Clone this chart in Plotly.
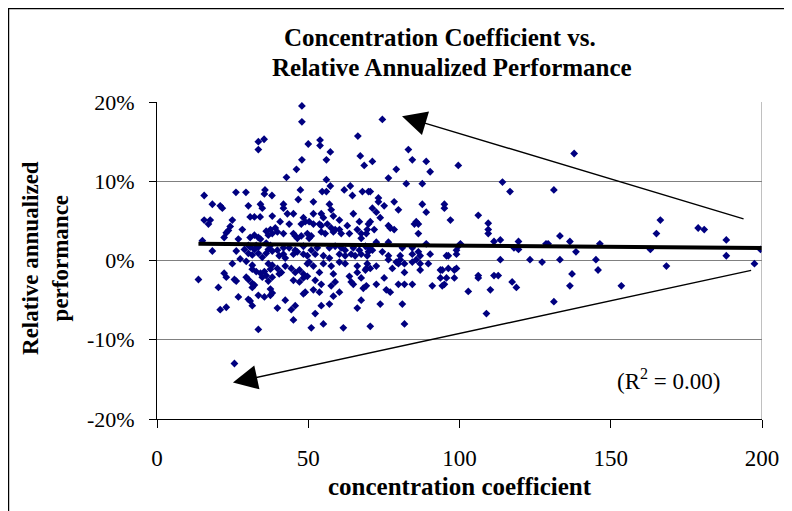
import plotly.graph_objects as go
import numpy as np

# concentration coefficient (x) / relative annualized performance in % (y)
conc_top_left = [47.9, 47.9, 50.0, 47.9, 46.1, 42.8, 33.5, 35.4, 33.5, 47.4, 26.1, 29.4, 35.7, 35.5, 38.0, 15.6, 46.7]
perf_top_left = [19.5, 17.5, 14.7, 12.7, 11.5, 10.5, 15.0, 15.3, 14.0, 8.9, 8.6, 8.6, 8.9, 8.4, 8.2, 8.2, 7.7]

conc_top_mid = [74.5, 66.4, 53.9, 53.9, 57.3, 56.0, 67.2, 68.5, 71.2, 83.1, 84.4, 89.0, 90.3, 99.6, 79.1,
                76.5, 82.4, 87.7, 56.0, 57.3, 54.6, 56.0, 61.9, 63.9, 64.6, 67.9, 69.9, 70.5, 73.2]
perf_top_mid = [17.8, 15.7, 15.2, 14.5, 13.7, 12.7, 13.2, 12.0, 12.5, 14.0, 12.7, 12.5, 11.2, 12.0, 11.5,
                10.4, 9.7, 9.7, 10.2, 9.4, 8.7, 8.7, 8.9, 9.4, 8.2, 8.7, 8.7, 8.7, 7.9]

conc_left = [18.3, 20.9, 21.6, 30.2, 34.2, 34.8, 15.6, 17.6, 17.0, 24.9, 30.8, 32.2, 34.1, 38.1, 24.2, 23.6,
             22.9, 22.2, 28.2, 26.9, 30.8, 32.2, 33.5, 34.2, 36.1, 36.8, 37.5, 38.1, 18.3, 26.2, 24.9, 27.5,
             29.5, 28.9, 30.2, 30.8, 32.8, 32.2, 33.5, 30.2, 31.5, 33.5, 34.8, 36.1, 36.1, 37.5, 36.8, 38.1,
             31.5, 31.5, 32.8, 34.2, 36.8, 37.5, 38.1, 35.5, 36.1, 13.7, 22.2, 22.9, 25.6, 26.2, 29.5, 30.2,
             31.5, 32.2, 31.5, 20.3, 26.9, 30.2, 30.8, 31.5, 33.5, 35.5, 37.5, 38.1, 20.9, 22.9, 34.8, 36.8,
             38.1, 37.5, 33.5, 15.0, 25.6]
perf_left = [7.1, 6.9, 6.6, 6.9, 7.1, 6.6, 5.1, 5.1, 4.6, 5.1, 5.5, 5.5, 5.5, 5.6, 4.3, 3.8,
             3.5, 2.9, 3.9, 2.7, 2.9, 3.2, 2.9, 2.7, 3.7, 3.2, 3.9, 3.4, 1.2, 1.2, -0.4, 0.2,
             -0.1, 1.4, 1.9, 1.7, 1.9, 1.4, 1.7, 0.9, 0.7, 0.9, 0.4, 0.9, 2.2, 1.9, 1.4, 1.2,
             -0.6, -1.1, -1.4, -1.6, -0.4, -1.1, -0.6, -1.4, -1.9, -2.4, -1.6, -2.1, -2.4, -2.6, -2.1, -2.4,
             -2.9, -3.1, -3.4, -3.4, -4.6, -4.9, -5.1, -5.7, -4.4, -4.6, -4.4, -4.1, -6.2, -5.9, -2.1, -2.6,
             -2.1, -3.6, -8.7, 2.5, -13.0]

conc_mid_a = [41.8, 41.8, 51.7, 57.0, 45.1, 43.1, 48.4, 49.0, 47.7, 51.7, 51.7, 50.3, 54.3, 55.0, 56.3, 53.7,
              57.6, 58.3, 60.3, 64.9, 62.9, 66.9, 40.7, 39.1, 39.8, 43.7, 41.8, 45.1, 45.7, 46.4, 47.7, 49.7,
              50.3, 51.0, 54.3, 54.3, 55.6, 57.6, 58.3, 58.9, 60.3, 60.9, 63.6, 66.2, 67.5, 67.5, 69.5]
perf_mid_a = [7.1, 6.6, 7.4, 7.1, 5.9, 5.9, 5.4, 4.9, 4.6, 5.9, 4.6, 4.9, 5.9, 5.4, 4.6, 4.6,
              6.4, 5.6, 5.1, 5.9, 4.4, 4.9, 4.9, 4.1, 3.6, 4.6, 3.4, 3.4, 3.1, 2.8, 3.1, 3.4,
              2.8, 3.1, 4.4, 3.6, 3.4, 4.1, 3.6, 3.9, 3.9, 3.4, 3.4, 3.9, 3.4, 2.8, 3.9]

conc_mid_b = [39.8, 41.8, 43.7, 45.7, 48.4, 51.0, 53.0, 57.0, 58.9, 60.9, 62.2, 64.9, 66.9, 68.9, 40.4,
              41.8, 42.4, 45.1, 46.4, 48.4, 49.7, 52.3, 55.0, 57.0, 60.3, 62.2, 64.2, 65.5, 67.5, 69.5]
perf_mid_b = [1.3, 1.6, 1.6, 1.3, 1.8, 1.3, 1.6, 1.6, 1.8, 1.6, 1.3, 1.6, 1.3, 1.8, 0.6,
              0.8, 0.3, 0.8, 1.1, 0.8, 0.6, 0.8, 0.6, 0.3, 0.8, 0.6, 0.8, 0.6, 0.8, 0.6]

conc_mid_c = [39.8, 41.1, 42.4, 44.4, 45.7, 47.1, 48.4, 49.7, 50.3, 51.7, 53.7, 55.0, 57.6, 58.3, 60.3,
              62.2, 63.6, 64.2, 66.2, 66.2, 67.5, 68.9, 69.5,
              40.4, 45.1, 47.1, 48.4, 49.7, 52.3, 51.7, 54.3, 53.7, 57.6, 58.9, 60.3, 58.3, 64.9, 68.2,
              42.4, 49.0, 48.4, 39.8, 44.4, 45.7, 54.3, 57.0, 52.3, 66.2, 67.5, 45.1, 51.0, 55.0, 61.6]
perf_mid_c = [-1.0, -1.5, -0.7, -1.0, -1.5, -1.2, -1.7, -0.4, -0.2, -0.7, -1.5, -0.4, -0.7, -1.7, -0.2,
              -0.4, -2.0, -2.7, -0.7, -1.5, -2.2, -1.2, -0.4,
              -1.7, -2.5, -2.7, -2.2, -2.0, -2.5, -3.7, -3.0, -4.0, -3.2, -2.7, -4.0, -4.5, -3.0, -3.5,
              -5.0, -4.0, -4.2, -6.0, -6.2, -5.7, -5.7, -5.5, -6.7, -6.0, -5.0, -7.5, -8.5, -8.0, -8.5]

conc_mid_d = [73.2, 75.1, 78.4, 79.8, 71.2, 72.5, 73.8, 87.7, 89.0, 95.0, 95.0, 97.0, 70.5, 69.9, 71.8, 69.2,
              76.5, 77.1, 78.4, 85.7, 86.4, 85.1, 86.4,
              72.5, 76.5, 89.0, 69.9, 71.2, 74.5, 69.9, 76.5, 80.4, 81.1, 84.4, 84.4, 86.4, 87.0, 90.3, 95.7,
              96.3, 99.0, 99.6, 100.3, 99.0,
              76.5, 79.1, 80.4, 79.8, 81.8, 84.4, 85.7, 87.0, 87.0, 89.7, 69.2, 70.5, 72.5, 77.8, 81.8, 93.7,
              94.3, 96.3, 98.3, 99.0,
              75.1, 69.2, 72.5, 79.8, 81.8, 84.4, 75.8, 77.1, 91.0, 93.7, 95.7, 98.3, 95.0, 94.3, 73.8, 81.1,
              70.5, 81.8]
perf_mid_d = [7.4, 6.9, 7.4, 6.4, 6.6, 6.1, 5.4, 7.1, 6.1, 7.1, 6.6, 5.1, 4.9, 4.6, 3.9, 3.4,
              4.4, 4.1, 3.9, 4.9, 4.6, 4.6, 3.4,
              2.3, 2.3, 2.1, 1.6, 1.3, 1.1, 1.1, 0.6, 0.6, 1.6, 0.8, 1.6, 1.1, 0.6, 0.8, 0.6,
              0.6, 1.3, 1.8, 2.1, 0.8,
              0.1, -0.2, 0.1, -0.4, -0.4, -0.2, 0.1, -0.4, -1.2, -0.4, -1.0, -1.0, -0.7, -1.0, -1.5, -1.2,
              -1.2, -1.0, -1.2, -1.0,
              -2.2, -3.2, -3.0, -3.0, -3.0, -3.0, -3.7, -4.0, -3.2, -2.2, -2.2, -2.2, -3.0, -3.2, -5.5, -5.5,
              -8.3, -8.0]

conc_right = [137.9, 114.2, 116.7, 131.2, 106.2, 109.5, 109.5, 109.5, 111.4, 113.5, 119.5, 118.0,
              119.5, 128.6, 129.3, 133.2, 136.5, 138.5, 146.4, 113.5, 123.3, 127.3, 133.2, 145.1,
              145.8, 106.2, 106.2, 111.4, 112.8, 117.4, 118.8, 102.9, 110.2, 137.2, 136.5, 131.2,
              108.9, 153.5, 166.4, 165.1, 178.9, 180.9, 188.2, 163.1, 188.2, 168.4, 197.5, 199.5]
perf_right = [13.5, 9.9, 8.7, 8.9, 5.7, 4.7, 3.9, 3.4, 2.4, 2.6, 2.4, 1.6,
              1.4, 2.1, 2.1, 3.1, 2.4, 1.1, 2.1, 0.1, 0.1, -0.2, 0.1, 0.1,
              -1.2, -1.9, -2.2, -1.9, -1.9, -2.7, -3.4, -3.9, -3.7, -1.7, -3.2, -5.2,
              -6.7, -3.2, 5.1, 3.4, 4.1, 3.9, 2.6, 1.4, 0.6, -0.7, -0.4, 1.4]

# y tick labels use a plain hyphen, as in the original
y_ticks = [-20, -10, 0, 10, 20]
y_tick_labels = ['-20%', '-10%', '0%', '10%', '20%']

# linear trend as drawn on the chart
trend_intercept = 2.15
trend_slope = -0.0028

# arrows: (head x, head y, tail x, tail y) in data units
arrow_up = (81.0, 18.2, 194.4, 5.2)
arrow_down = (25.1, -15.4, 196.9, -1.2)

conc = (conc_top_left + conc_top_mid + conc_left + conc_mid_a + conc_mid_b
        + conc_mid_c + conc_mid_d + conc_right)
perf = (perf_top_left + perf_top_mid + perf_left + perf_mid_a + perf_mid_b
        + perf_mid_c + perf_mid_d + perf_right)

serif = 'Liberation Serif'

fig = go.Figure()

fig.add_trace(go.Scatter(
    x=conc,
    y=perf,
    mode='markers',
    marker=dict(symbol='diamond', size=6, color='#000080', line=dict(width=0)),
    showlegend=False,
    hoverinfo='skip'
))

trend_x = np.array([min(conc), 200])
fig.add_trace(go.Scatter(
    x=trend_x,
    y=trend_intercept + trend_slope * trend_x,
    mode='lines',
    line=dict(color='black', width=4),
    showlegend=False,
    hoverinfo='skip'
))

fig.update_xaxes(
    range=[0, 200],
    dtick=50,
    showgrid=False,
    zeroline=False,
    showline=True,
    linecolor='black',
    linewidth=1,
    ticks='outside',
    ticklen=8,
    tickcolor='black',
    ticklabelstandoff=10,
    tickfont=dict(family=serif, size=23, color='black')
)

fig.update_yaxes(
    range=[-20, 20],
    tickmode='array',
    tickvals=y_ticks,
    ticktext=y_tick_labels,
    showgrid=True,
    gridcolor='#808080',
    gridwidth=1,
    zeroline=False,
    showline=True,
    linecolor='black',
    linewidth=1,
    ticks='outside',
    ticklen=7,
    tickcolor='black',
    ticklabelstandoff=10,
    tickfont=dict(family=serif, size=22, color='black')
)

shapes = [
    # right edge of plot area
    dict(type='line', xref='x', yref='y', x0=200, x1=200, y0=-20, y1=20,
         line=dict(color='#808080', width=1)),
    # chart border
    dict(type='rect', xref='paper', yref='paper', x0=-0.2455, x1=1.0446, y0=-0.33, y1=1.295,
         line=dict(color='black', width=1.5)),
]

annotations = [
    dict(text='<b>Concentration Coefficient vs.</b>', xref='paper', yref='paper',
         x=0.4678, y=1.2019, showarrow=False, xanchor='center', yanchor='middle',
         font=dict(family=serif, size=25, color='black')),
    dict(text='<b>Relative Annualized Performance</b>', xref='paper', yref='paper',
         x=0.4876, y=1.1073, showarrow=False, xanchor='center', yanchor='middle',
         font=dict(family=serif, size=25, color='black')),
    dict(text='<b>Relative annualized<br>performance</b>', xref='paper', yref='paper',
         x=-0.1835, y=0.508, showarrow=False, textangle=-90, xanchor='center', yanchor='middle',
         font=dict(family=serif, size=23, color='black')),
    dict(text='<b>concentration coefficient</b>', xref='paper', yref='paper',
         x=0.5, y=-0.2145, showarrow=False, xanchor='center', yanchor='middle',
         font=dict(family=serif, size=25, color='black')),
    dict(text='(R<sup>2</sup> = 0.00)', xref='paper', yref='paper',
         x=0.845, y=0.126, showarrow=False, xanchor='center', yanchor='middle',
         font=dict(family=serif, size=23, color='black')),
]

for hx, hy, tx, ty in (arrow_up, arrow_down):
    annotations.append(dict(
        x=hx, y=hy, ax=tx, ay=ty, xref='x', yref='y', axref='x', ayref='y',
        text='', showarrow=True, arrowhead=2, arrowsize=3.5, arrowwidth=1.4,
        arrowcolor='black'
    ))

# the page adds an 8px body margin, so the figure is 8px smaller and the margins shifted
fig.update_layout(
    width=784,
    height=503,
    margin=dict(l=149, r=30, t=94, b=92),
    plot_bgcolor='white',
    paper_bgcolor='white',
    font=dict(family=serif, size=16, color='black'),
    shapes=shapes,
    annotations=annotations,
)

fig.write_html("out.html")
